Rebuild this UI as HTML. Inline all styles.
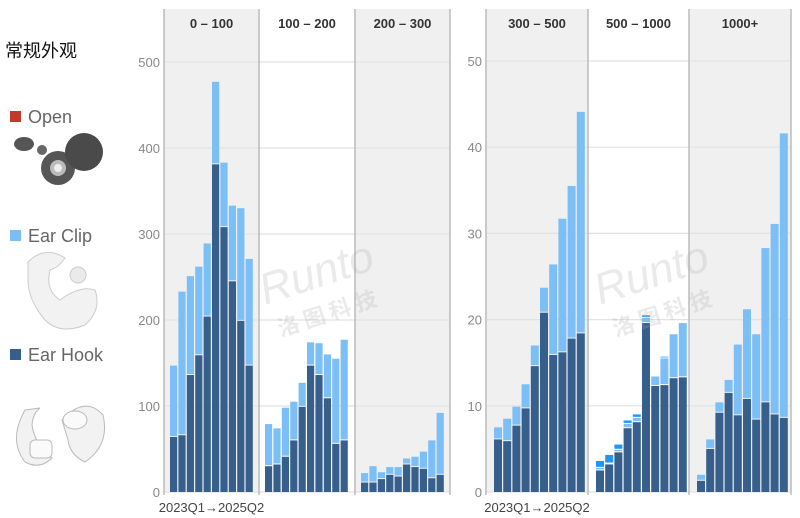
<!DOCTYPE html>
<html><head><meta charset="utf-8"><style>
body{margin:0;background:#fff;width:800px;height:518px;overflow:hidden;font-family:"Liberation Sans","Noto Sans CJK SC",sans-serif}
</style></head><body>
<svg id="s" width="800" height="518" xmlns="http://www.w3.org/2000/svg" style="position:absolute;left:0;top:0">
<text x="5" y="57" font-size="18" fill="#111" font-family="Liberation Sans, Noto Sans CJK SC, sans-serif">常规外观</text>
<rect x="10" y="111" width="11" height="11" fill="#c0392b"/>
<text x="28" y="123" font-size="18" fill="#666">Open</text>
<rect x="10" y="230" width="11" height="11" fill="#7cbff7"/>
<text x="28" y="242" font-size="18" fill="#666">Ear Clip</text>
<rect x="10" y="349" width="11" height="11" fill="#365f8b"/>
<text x="28" y="361" font-size="18" fill="#666">Ear Hook</text>
<!-- open earbuds -->
<ellipse cx="24" cy="144" rx="10" ry="7" fill="#555"/><circle cx="42" cy="150" r="5" fill="#666"/>
<circle cx="58" cy="168" r="17" fill="#555"/><circle cx="58" cy="168" r="8" fill="#bbb"/><circle cx="58" cy="168" r="4" fill="#eee"/>
<circle cx="84" cy="152" r="19" fill="#4a4a4a"/>
<!-- ear clip -->
<path d="M28 262 Q45 245 65 258 Q58 268 50 270 Q45 290 60 300 Q80 285 95 290 Q102 310 85 325 Q60 335 45 320 Q28 300 28 280 Z" fill="#f2f2f2" stroke="#ccc"/>
<circle cx="78" cy="275" r="8" fill="#eaeaea" stroke="#ccc"/>
<!-- ear hook -->
<path d="M25 410 Q8 440 25 462 Q40 470 52 458 Q35 445 32 425 Q33 413 40 408 Z" fill="#f2f2f2" stroke="#bbb"/>
<rect x="30" y="440" width="22" height="18" rx="5" fill="#fafafa" stroke="#bbb"/>
<path d="M62 420 Q85 395 103 415 Q110 445 85 462 Q70 455 68 440 Z" fill="#f2f2f2" stroke="#bbb"/>
<ellipse cx="75" cy="420" rx="12" ry="9" fill="#fafafa" stroke="#bbb"/>
<g id="g"></g>
</svg>
<script>
var g=document.getElementById('g'),NS='http://www.w3.org/2000/svg';
function el(t,a,txt){var e=document.createElementNS(NS,t);for(var k in a)e.setAttribute(k,a[k]);if(txt!=null)e.textContent=txt;g.appendChild(e);return e;}
var DK='#365f8b',LT='#7cbff7',BB='#2196f3';
var Y0=492,TOP=9;
function panel(facets,sep,scale,ticks,inset,span){
  facets.forEach(function(f,i){
    var L=sep[i],R=sep[i+1];
    el('rect',{x:L,y:TOP,width:R-L,height:Y0-TOP,fill:i==1?'#fff':'#f0f0f0'});
    ticks.forEach(function(t){var y=Y0-t*scale;el('line',{x1:L,x2:R,y1:y,y2:y,stroke:'#e2e2e2','stroke-width':1.2});});
    el('text',{x:(L+R)/2,y:28,'font-size':13,'font-weight':'bold','text-anchor':'middle',fill:'#333'},f.n);
    var pitch=span/10;
    f.d.forEach(function(b,j){
      var x=L+inset+j*pitch,w=pitch-1.2,prev=0;
      var cols=b.length==2?[DK,LT]:[DK,LT,BB];
      b.forEach(function(v,k){var y1=Y0-v*scale,y0=Y0-prev*scale;
        el('rect',{x:x,y:y1,width:w,height:Math.max(0,y0-y1-(k?1:0)),fill:cols[k]});prev=v;});
    });
  });
  for(var i=0;i<sep.length;i++){el('line',{x1:sep[i],x2:sep[i],y1:TOP,y2:Y0+3,stroke:'#bbb','stroke-width':1.5});}
  ticks.forEach(function(t){el('text',{x:sep[0]-4,y:Y0-t*scale+5,'font-size':13,'text-anchor':'end',fill:'#888'},t);});
  el('text',{x:(sep[0]+sep[1])/2,y:512,'font-size':13,'text-anchor':'middle',fill:'#444'},'2023Q1→2025Q2');
}
panel([
 {n:'0  –  100',d:[[64,147],[66,233],[136,251],[159,262],[204,289],[381,477],[308,383],[245,333],[199,330],[147,271]]},
 {n:'100  –  200',d:[[30,79],[32,74],[41,98],[60,105],[99,127],[147,174],[136,173],[109,160],[56,155],[60,177]]},
 {n:'200  –  300',d:[[11,22],[11,30],[15,23],[20,29],[18,29],[32,39],[29,41],[27,47],[16,60],[20,92]]}
],[164,259,355,450],0.86,[0,100,200,300,400,500],6,84);
panel([
 {n:'300  –  500',d:[[6.1,7.5],[5.9,8.5],[7.7,9.9],[9.7,12.5],[14.6,17],[20.8,23.7],[15.9,26.4],[16.2,31.7],[17.8,35.5],[18.4,44.1]]},
 {n:'500  –  1000',d:[[2.5,2.8,3.6],[3.2,3.3,4.3],[4.6,4.9,5.5],[7.4,7.9,8.3],[8.1,8.6,9.0],[19.6,20.2,20.5],[12.3,13.4],[12.4,15.5,15.7],[13.2,18.3],[13.3,19.6]]},
 {n:'1000+',d:[[1.3,2.0],[5.0,6.1],[9.2,10.4],[11.5,13.0],[8.9,17.1],[10.8,21.2],[8.4,18.3],[10.4,28.3],[9.0,31.1],[8.6,41.6]]}
],[486,588,689,791],8.62,[0,10,20,30,40,50],8,92);
[[265,305],[600,305]].forEach(function(p){
 el('text',{x:p[0],y:p[1],'font-size':44,'font-style':'italic',fill:'#aaa','fill-opacity':0.25,transform:'rotate(-18 '+p[0]+' '+p[1]+')'},'Runto');
 el('text',{x:p[0]+5,y:p[1]+35,'font-size':22,'font-weight':'bold',fill:'#aaa','fill-opacity':0.25,transform:'rotate(-18 '+p[0]+' '+p[1]+')','font-family':'Noto Sans CJK SC, sans-serif'},'洛 图 科 技');
});
</script>
</body></html>
